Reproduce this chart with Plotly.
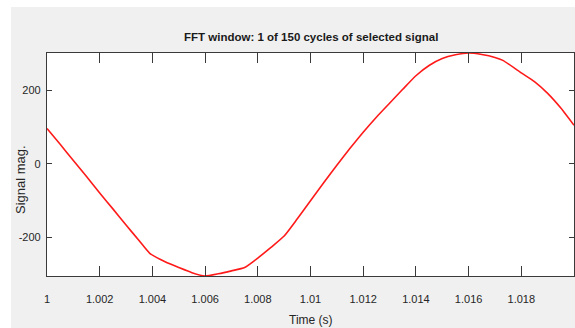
import plotly.graph_objects as go

# Time samples (s) and signal magnitude for the first FFT window cycle
time_s = [1.0000, 1.0005, 1.0010, 1.0015, 1.0020, 1.0025, 1.0030, 1.0035,
          1.0039, 1.0045, 1.0050, 1.0055, 1.0060, 1.0065, 1.0070, 1.0075,
          1.0080, 1.0085, 1.0090, 1.0095, 1.0100, 1.0105, 1.0110, 1.0115,
          1.0120, 1.0125, 1.0130, 1.0135, 1.0140, 1.0145, 1.0150, 1.0155,
          1.0160, 1.0165, 1.0170, 1.0173, 1.0180, 1.0185, 1.0190, 1.0195,
          1.0200]
signal_mag = [96, 53, 9, -35, -80, -123, -167, -210,
              -244, -268, -283, -297, -306, -300, -292, -283,
              -257, -228, -197, -150, -101, -52, -4, 42,
              86, 127, 165, 203, 240, 268, 287, 297,
              302, 298, 290, 282, 248, 224, 192, 152,
              105]

x_tickvals = [1.000, 1.002, 1.004, 1.006, 1.008, 1.010, 1.012, 1.014, 1.016, 1.018]
x_ticktext = ["1", "1.002", "1.004", "1.006", "1.008", "1.01", "1.012", "1.014", "1.016", "1.018"]
y_tickvals = [-200, 0, 200]
y_ticktext = ["-200", "0", "200"]

title_text = "FFT window: 1 of 150 cycles of selected signal"
x_label = "Time (s)"
y_label = "Signal mag."

NARROW = "Liberation Sans Narrow, Arial Narrow, Liberation Sans, Arial, sans-serif"
REGULAR = "Liberation Sans, Arial, sans-serif"
AXIS_COLOR = "#3a3a3a"

W, H = 575, 328
L, R, T, B = 47, 1, 53, 52
plot_w = W - L - R
plot_h = H - T - B


def px_to_paper_x(px):
    return (px - L) / plot_w


def px_to_paper_y(py):
    return (H - B - py) / plot_h


fig = go.Figure()
fig.add_trace(go.Scatter(
    x=time_s, y=signal_mag, mode="lines",
    line=dict(color="#ff1a1a", width=1.6, shape="spline", smoothing=0.5),
    hoverinfo="skip", showlegend=False,
))

# White frame strips along the top and left of the grey figure area
fig.add_shape(type="rect", xref="paper", yref="paper", layer="below",
              x0=px_to_paper_x(0), x1=px_to_paper_x(W + 5),
              y0=px_to_paper_y(7), y1=px_to_paper_y(-5),
              fillcolor="white", line_width=0)
fig.add_shape(type="rect", xref="paper", yref="paper", layer="below",
              x0=px_to_paper_x(-5), x1=px_to_paper_x(11),
              y0=px_to_paper_y(H + 5), y1=px_to_paper_y(-5),
              fillcolor="white", line_width=0)

fig.add_annotation(text=f"<b>{title_text}</b>", xref="paper", yref="paper",
                   x=0.5, y=px_to_paper_y(37), showarrow=False,
                   xanchor="center", yanchor="middle",
                   font=dict(family=NARROW, size=11.5, color="#1a1a1a"))
fig.add_annotation(text=x_label, xref="paper", yref="paper",
                   x=0.5, y=px_to_paper_y(320), showarrow=False,
                   xanchor="center", yanchor="middle",
                   font=dict(family=NARROW, size=12, color="#262626"))
fig.add_annotation(text=y_label, xref="paper", yref="paper",
                   x=px_to_paper_x(20), y=px_to_paper_y(180), showarrow=False,
                   textangle=-90, xanchor="center", yanchor="middle",
                   font=dict(family=REGULAR, size=13, color="#262626"))

fig.update_layout(
    width=W, height=H,
    margin=dict(l=L, r=R, t=T, b=B, pad=0),
    paper_bgcolor="#f0f0f0",
    plot_bgcolor="white",
)
fig.update_xaxes(
    range=[1.0, 1.02], tickvals=x_tickvals, ticktext=x_ticktext,
    ticks="inside", ticklen=10, tickwidth=1, tickcolor=AXIS_COLOR,
    showline=True, linecolor=AXIS_COLOR, linewidth=1.2, mirror="ticks",
    showgrid=False, zeroline=False, ticklabelstandoff=13,
    tickfont=dict(family=NARROW, size=11, color="#262626"),
)
fig.update_yaxes(
    range=[-306, 302], tickvals=y_tickvals, ticktext=y_ticktext,
    ticks="inside", ticklen=5, tickwidth=1, tickcolor=AXIS_COLOR,
    showline=True, linecolor=AXIS_COLOR, linewidth=1.2, mirror="ticks",
    showgrid=False, zeroline=False, ticklabelstandoff=3,
    tickfont=dict(family=NARROW, size=11, color="#262626"),
)

fig.write_html("out.html")
